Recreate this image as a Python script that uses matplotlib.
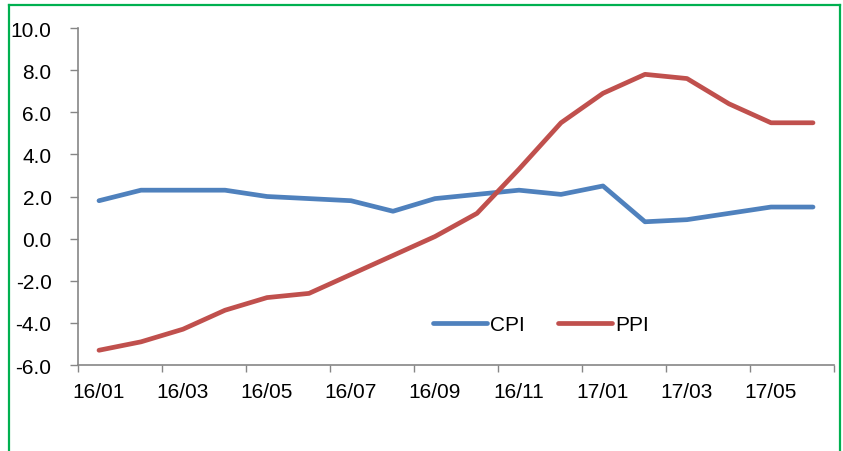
import numpy as np
import matplotlib.pyplot as plt
from matplotlib.lines import Line2D

plt.rcParams['font.family'] = ['Liberation Sans', 'DejaVu Sans']

# data
months = ["16/01", "16/02", "16/03", "16/04", "16/05", "16/06", "16/07", "16/08", "16/09",
          "16/10", "16/11", "16/12", "17/01", "17/02", "17/03", "17/04", "17/05", "17/06"]
cpi = [1.8, 2.3, 2.3, 2.3, 2.0, 1.9, 1.8, 1.3, 1.9, 2.1, 2.3, 2.1, 2.5, 0.8, 0.9, 1.2, 1.5, 1.5]
ppi = [-5.3, -4.9, -4.3, -3.4, -2.8, -2.6, -1.7, -0.8, 0.1, 1.2, 3.3, 5.5, 6.9, 7.8, 7.6, 6.4, 5.5, 5.5]
y_ticks = [-6, -4, -2, 0, 2, 4, 6, 8, 10]

W, H = 843, 452
fig = plt.figure(figsize=(W / 100, H / 100), dpi=100)
ax = fig.add_axes([78 / W, (H - 366) / H, (834 - 78) / W, (366 - 29) / H])

x = np.arange(len(months))
ax.plot(x, cpi, color="#4F81BD", lw=3.4, solid_capstyle="round", label="CPI")
ax.plot(x, ppi, color="#C0504D", lw=3.4, solid_capstyle="round", label="PPI")

ax.set_xlim(-0.5, len(months) - 0.5)
ax.set_ylim(-6, 10)
ax.set_yticks(y_ticks)
ax.set_yticklabels([f"{v:.1f}" for v in y_ticks])

# ticks between categories, labels at category centres
ax.set_xticks(np.arange(-0.5, len(months), 2))
ax.set_xticklabels([])
ax.set_xticks(x[::2], minor=True)
ax.set_xticklabels(months[::2], minor=True)
ax.tick_params(axis="x", which="major", length=5, color="#868686", width=1)
ax.tick_params(axis="x", which="minor", length=0, pad=12, labelsize=15)
ax.tick_params(axis="y", length=6, color="#868686", width=1, pad=13, labelsize=15)

for s in ["top", "right"]:
    ax.spines[s].set_visible(False)
for s in ["left", "bottom"]:
    ax.spines[s].set_color("#868686")
    ax.spines[s].set_linewidth(1.2)

fig.legend(loc="center", bbox_to_anchor=(541 / W, 1 - 326 / H), frameon=False,
           ncol=2, fontsize=15, handlelength=2.6, handletextpad=0.15,
           columnspacing=1.6)

# green frame
g = "#00B050"
fig.add_artist(Line2D([8.5 / W, 8.5 / W], [0, 1 - 5.5 / H], color=g, lw=1.6))
fig.add_artist(Line2D([8.5 / W, 839.5 / W], [1 - 5.5 / H, 1 - 5.5 / H], color=g, lw=1.6))
fig.add_artist(Line2D([839.5 / W, 839.5 / W], [0, 1 - 5.5 / H], color=g, lw=1.6))

fig.savefig("out.png", dpi=100)
